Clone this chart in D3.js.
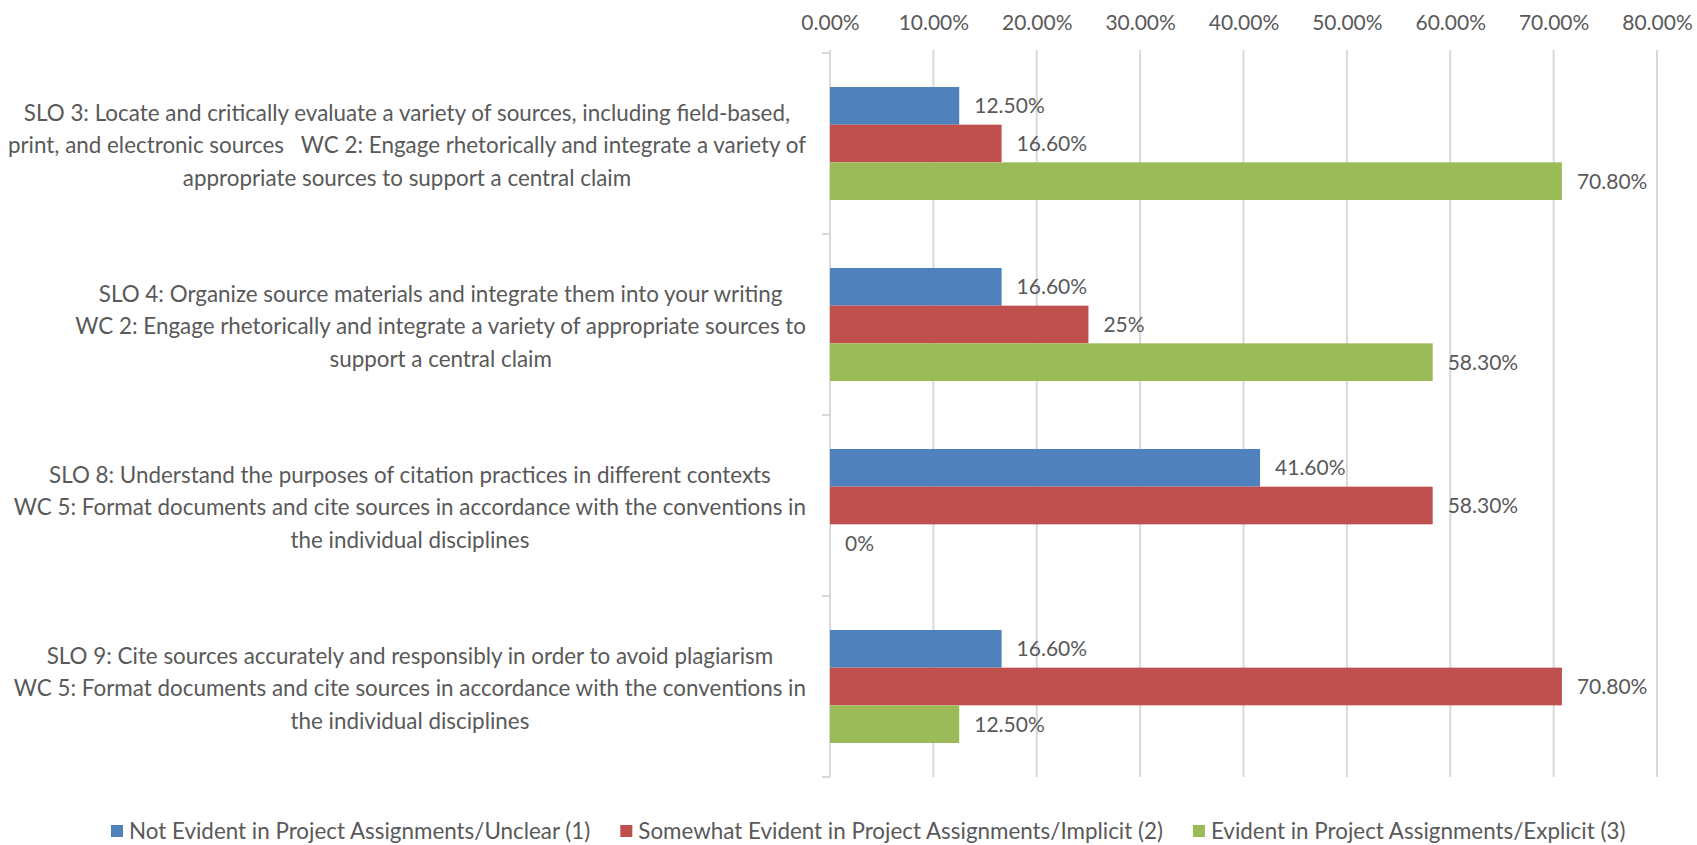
<!DOCTYPE html>
<html>
<head>
<meta charset="utf-8">
<script src="https://cdn.jsdelivr.net/npm/d3@7"></script>
<style>
    body { margin: 0; background: #fff; }
    #chart { width: 1697px; height: 845px; }
    text { font-family: Lato, sans-serif; fill: #595959; }
</style>
</head>
<body>
<div id="chart"></div>
<script>
// categories, each one split into its wrapped lines
const categories = ['SLO 3', 'SLO 4', 'SLO 8', 'SLO 9'];
const categoryLines = [
    ['SLO 3: Locate and critically evaluate a variety of sources, including field-based,',
     'print, and electronic sources   WC 2: Engage rhetorically and integrate a variety of',
     'appropriate sources to support a central claim'],
    ['SLO 4: Organize source materials and integrate them into your writing',
     'WC 2: Engage rhetorically and integrate a variety of appropriate sources to',
     'support a central claim'],
    ['SLO 8: Understand the purposes of citation practices in different contexts',
     'WC 5: Format documents and cite sources in accordance with the conventions in',
     'the individual disciplines'],
    ['SLO 9: Cite sources accurately and responsibly in order to avoid plagiarism',
     'WC 5: Format documents and cite sources in accordance with the conventions in',
     'the individual disciplines']
];

const seriesNames = [
    'Not Evident in Project Assignments/Unclear (1)',
    'Somewhat Evident in Project Assignments/Implicit (2)',
    'Evident in Project Assignments/Explicit (3)'
];
const notEvident = [0.125, 0.166, 0.416, 0.166];
const somewhatEvident = [0.166, 0.25, 0.583, 0.708];
const evident = [0.708, 0.583, 0, 0.125];

// labels as they are printed on the bars
const notEvidentLabels = ['12.50%', '16.60%', '41.60%', '16.60%'];
const somewhatEvidentLabels = ['16.60%', '25%', '58.30%', '70.80%'];
const evidentLabels = ['70.80%', '58.30%', '0%', '12.50%'];

const xTicks = [0, 0.1, 0.2, 0.3, 0.4, 0.5, 0.6, 0.7, 0.8];
const colors = ['#4F81BD', '#C0504D', '#9BBB59'];

class BarChart {

    constructor(opts) {
        this.element = opts.element;
        this.series = opts.series;
        this.fontSize = opts.fontSize;      // words
        this.numSize = opts.numSize;        // numbers
        this.create();
    }

    create() {
        this.width = 1697;
        this.height = 845;
        this.margin = {top: 53, right: 40, bottom: 68, left: 830};

        var svg = d3.select(this.element).append('svg')
            .attr('width', this.width)
            .attr('height', this.height);

        this.x = d3.scaleLinear().domain([0, 0.8]).range([this.margin.left, this.margin.left + 827]);
        this.y = d3.scaleBand().domain(categories)
            .range([this.margin.top, this.height - this.margin.bottom])
            .paddingInner(0.3757).paddingOuter(0.18785);
        this.ySub = d3.scaleBand().domain(d3.range(this.series.length))
            .range([0, this.y.bandwidth()]);

        this.drawGrid(svg);
        this.drawBars(svg);
        this.drawLabels(svg);
        this.drawLegend(svg);
    }

    drawGrid(svg) {
        var x = this.x, top = this.margin.top, bottom = this.height - this.margin.bottom;

        svg.append('g').selectAll('line').data(xTicks).join('line')
            .attr('x1', d => x(d)).attr('x2', d => x(d))
            .attr('y1', top - 3).attr('y2', bottom)
            .attr('stroke', '#D9D9D9').attr('stroke-width', 2);

        // top value axis
        var axis = svg.append('g')
            .attr('transform', 'translate(0,' + 30 + ')')
            .call(d3.axisTop(x).tickValues(xTicks).tickFormat(d3.format('.2%')).tickSize(0).tickPadding(0));
        axis.select('.domain').remove();
        axis.selectAll('text').attr('font-size', this.numSize).style('font-family', null).attr('fill', '#595959');

        // category axis ticks
        var bounds = categories.map(c => this.y(c) - this.y.step() * this.y.paddingInner() / 2);
        bounds.push(bottom);
        svg.append('g').selectAll('line').data(bounds).join('line')
            .attr('x1', x(0) - 8).attr('x2', x(0))
            .attr('y1', d => d).attr('y2', d => d)
            .attr('stroke', '#D9D9D9').attr('stroke-width', 2);
    }

    drawBars(svg) {
        var x = this.x, y = this.y, ySub = this.ySub, fs = this.numSize;
        this.series.forEach((s, i) => {
            svg.append('g').selectAll('rect').data(s.values).join('rect')
                .attr('x', x(0))
                .attr('y', (d, j) => y(categories[j]) + ySub(i))
                .attr('width', d => x(d) - x(0))
                .attr('height', ySub.bandwidth())
                .attr('fill', colors[i]);

            svg.append('g').selectAll('text').data(s.values).join('text')
                .attr('x', d => x(d) + 15)
                .attr('y', (d, j) => y(categories[j]) + ySub(i) + ySub.bandwidth() / 2)
                .attr('dy', '0.35em')
                .attr('font-size', fs)
                .text((d, j) => s.labels[j]);
        });
    }

    drawLabels(svg) {
        var y = this.y;
        var right = this.x(0) - 24;
        var g = svg.append('g');
        categoryLines.forEach((lines, i) => {
            var cy = y(categories[i]) + y.bandwidth() / 2 + 2;
            var spans = g.append('text')
                .attr('text-anchor', 'middle')
                .attr('font-size', this.fontSize)
                .style('white-space', 'pre')
                .selectAll('tspan').data(lines).join('tspan')
                .attr('y', (d, k) => cy + (k - 1) * 32.5)
                .attr('dy', '0.35em')
                .text(d => d);
            // block sits against the axis, lines centred inside it (like Excel)
            var widest = d3.max(spans.nodes(), n => n.getComputedTextLength());
            spans.attr('x', right - widest / 2);
        });
    }

    drawLegend(svg) {
        var g = svg.append('g').attr('transform', 'translate(0,831)');
        var cursor = 111;
        this.series.forEach((s, i) => {
            g.append('rect').attr('x', cursor).attr('y', -6).attr('width', 12).attr('height', 12).attr('fill', colors[i]);
            var t = g.append('text').attr('x', cursor + 18).attr('y', 0).attr('dy', '0.35em')
                .attr('font-size', this.fontSize).text(s.name);
            cursor += 18 + t.node().getComputedTextLength() + 30;
        });
    }
}

var chart = new BarChart({
    element: document.getElementById('chart'),
    fontSize: 22.4,
    numSize: 21,
    series: [
        {name: seriesNames[0], values: notEvident, labels: notEvidentLabels},
        {name: seriesNames[1], values: somewhatEvident, labels: somewhatEvidentLabels},
        {name: seriesNames[2], values: evident, labels: evidentLabels}
    ]
});
</script>
</body>
</html>
